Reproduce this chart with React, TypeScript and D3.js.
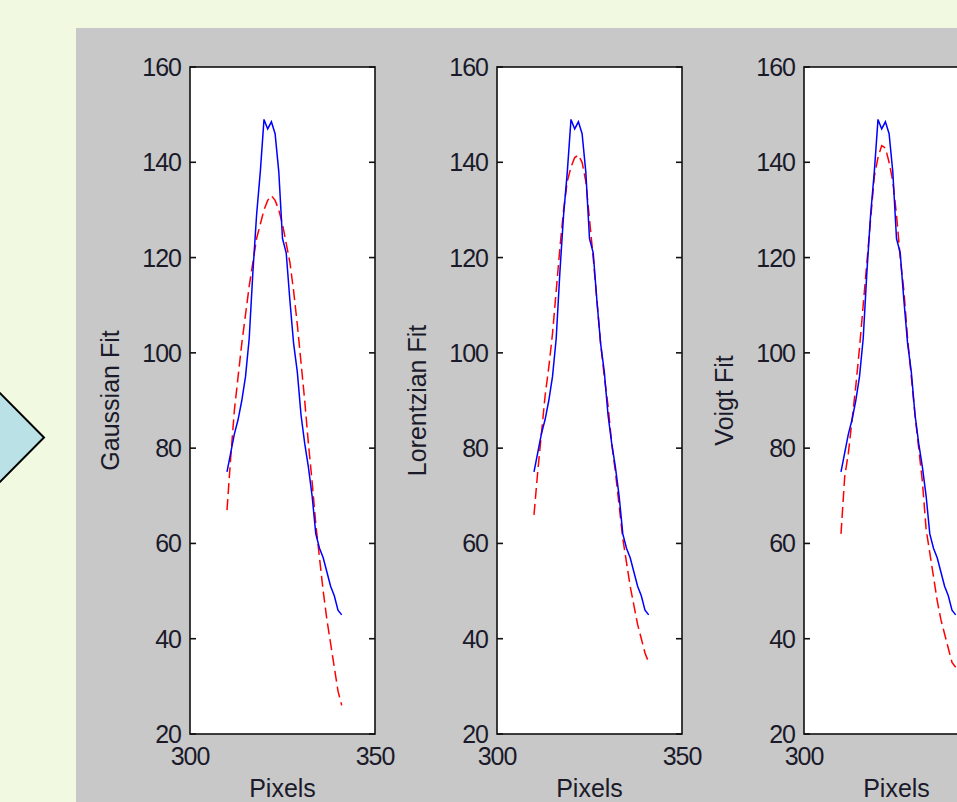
import React from 'react'
import * as d3 from 'd3'

// pixel positions along the profile
const pixels = [310,311,312,313,314,315,316,317,318,319,320,321,322,323,324,325,326,327,328,329,330,331,332,333,334,335,336,337,338,339,340,341]

// measured intensity (blue, same in every panel)
const measured = [75,79,83,86,90,95,103,117,129,138,149,147,148.5,146,138,124,121,111,102,96,87,81,76,70,62,59,57,54,51,49,46,45]

// fitted curves (red dashed)
const gaussFit = [67,78,88,95,102,108,114,119,124,127,130,132,133,132,130,127,123,119,113,106,98,90,81,73,64,57,50,44,39,34,29,26]
const lorentzFit = [66,75,83,91,97,104,113,122,130,136,139,141,141.5,140,136,128,120,111,102,95,89,81,75,68,61,56,51,47,43,40,37,35]
const voigtFit = [62,74,79,86,93,101,110,119,128,137,141,143.5,143,140,136,129,120,113,103,95,87,80,73,63,58,53,48,44,41,38,35,34]

const fitNames = ['Gaussian Fit', 'Lorentzian Fit', 'Voigt Fit']
const fits = [gaussFit, lorentzFit, voigtFit]

const yTicks = [20,40,60,80,100,120,140,160]
const xTicks = [300,350]
const xLabel = 'Pixels'

const W = 957
const H = 802
const plotLefts = [190, 497, 804]
const plotW = 185
const plotTop = 67
const plotBottom = 734
const font = '"Liberation Sans", Arial, sans-serif'

function Panel({left, name, fit}: {left: number, name: string, fit: number[]}) {
  const x = d3.scaleLinear().domain([300, 350]).range([left, left + plotW])
  const y = d3.scaleLinear().domain([20, 160]).range([plotBottom, plotTop])
  const line = d3.line<number>()
    .x((d, i) => x(pixels[i]))
    .y(d => y(d))
  const right = left + plotW
  const midY = (plotTop + plotBottom) / 2
  // the window cuts the last panel, so skip labels that fall outside it
  const shownX = xTicks.filter(t => x(t) < W)
  return (
    <g>
      <rect x={left} y={plotTop} width={plotW} height={plotBottom - plotTop} fill="#fff" />
      <path d={line(fit) || ''} fill="none" stroke="#ff0000" strokeWidth={1.5} strokeDasharray="11,5" />
      <path d={line(measured) || ''} fill="none" stroke="#0000ff" strokeWidth={1.5} />
      <rect x={left} y={plotTop} width={plotW} height={plotBottom - plotTop} fill="none" stroke="#111" strokeWidth={1.6} />
      {yTicks.map(t => (
        <g key={'y' + t}>
          <line x1={left} x2={left + 6} y1={y(t)} y2={y(t)} stroke="#111" strokeWidth={1.6} />
          <line x1={right} x2={right - 6} y1={y(t)} y2={y(t)} stroke="#111" strokeWidth={1.6} />
          <text x={left - 9} y={y(t)} textAnchor="end" dominantBaseline="central"
            fontSize={25} letterSpacing={-1} fontFamily={font} fill="#1a1a2a">{t}</text>
        </g>
      ))}
      {shownX.map(t => (
        <text key={'x' + t} x={x(t)} y={plotBottom + 31} textAnchor="middle"
          fontSize={25} letterSpacing={-1} fontFamily={font} fill="#1a1a2a">{t}</text>
      ))}
      <text x={left + plotW / 2} y={plotBottom + 63} textAnchor="middle"
        fontSize={25} fontFamily={font} fill="#1a1a2a">{xLabel}</text>
      <text transform={`translate(${left - 71},${midY}) rotate(-90)`} textAnchor="middle"
        fontSize={25} fontFamily={font} fill="#1a1a2a">{name}</text>
    </g>
  )
}

export default function App() {
  React.useEffect(() => {
    document.body.style.margin = '0'
  }, [])
  return (
    <div style={{position: 'absolute', left: 0, top: 0, width: W, height: H, overflow: 'hidden'}}>
      <svg width={W} height={H} style={{display: 'block'}}>
        <rect x={0} y={0} width={W} height={H} fill="#f1f9e1" />
        <polygon points="-20,373 44,437.5 -20,502" fill="#b9e1e6" stroke="#000" strokeWidth={2} />
        <rect x={76} y={28} width={W - 76} height={H - 28} fill="#c8c8c8" />
        {fitNames.map((n, i) => (
          <Panel key={n} left={plotLefts[i]} name={n} fit={fits[i]} />
        ))}
      </svg>
    </div>
  )
}
